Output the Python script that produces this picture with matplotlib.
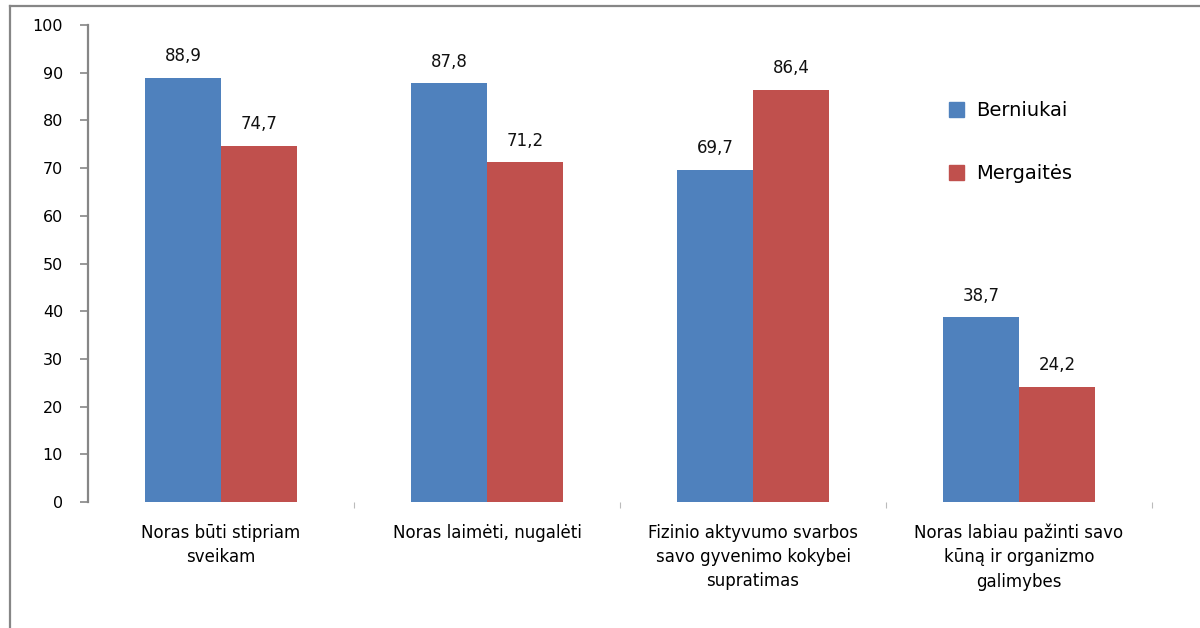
import matplotlib
matplotlib.use("Agg")
import matplotlib.pyplot as plt
import numpy as np
from matplotlib.lines import Line2D
from matplotlib.patches import Patch

categories = ["Noras būti stipriam\nsveikam",
              "Noras laimėti, nugalėti",
              "Fizinio aktyvumo svarbos\nsavo gyvenimo kokybei\nsupratimas",
              "Noras labiau pažinti savo\nkūną ir organizmo\ngalimybes"]
berniukai = [88.9, 87.8, 69.7, 38.7]
mergaites = [74.7, 71.2, 86.4, 24.2]
series_names = ["Berniukai", "Mergaitės"]
yticks = [0, 10, 20, 30, 40, 50, 60, 70, 80, 90, 100]

blue = "#4F81BD"
red = "#C0504D"
gray = "#868686"

plt.rcParams['font.family'] = ['DejaVu Sans']

fig = plt.figure(figsize=(12, 6.28), dpi=100)
ax = fig.add_axes([88/1200, 1-502/628, (1152-88)/1200, (502-25)/628])

x = np.arange(len(categories))
w = 0.2857
b1 = ax.bar(x - w/2, berniukai, w, color=blue)
b2 = ax.bar(x + w/2, mergaites, w, color=red)

def fmt(v):
    return f"{v:.1f}".replace(".", ",")

for bars, vals in ((b1, berniukai), (b2, mergaites)):
    for r, v in zip(bars, vals):
        ax.annotate(fmt(v), (r.get_x() + r.get_width()/2, v),
                    xytext=(0, 9), textcoords="offset points",
                    ha="center", va="bottom", fontsize=12, color="#111111")

ax.set_xlim(-0.5, len(categories) - 0.5)
ax.set_ylim(0, 100)
ax.set_yticks(yticks)
ax.set_yticklabels([str(t) for t in yticks], fontsize=11.5)
ax.tick_params(axis='y', length=6, width=1.2, color=gray, pad=12, direction='out')

ax.set_xticks(x)
ax.set_xticklabels(categories, fontsize=12, linespacing=1.45)
ax.tick_params(axis='x', length=0, pad=15.5)
ax.set_xticks(np.arange(0.5, len(categories), 1), minor=True)
ax.tick_params(axis='x', which='minor', length=4, width=0.8, color="#BBBBBB", direction='out')

for s in ("top", "right", "bottom"):
    ax.spines[s].set_visible(False)
ax.spines["left"].set_color(gray)
ax.spines["left"].set_linewidth(1.6)

handles = [Patch(color=blue), Patch(color=red)]
fig.legend(handles, series_names, loc="upper left",
           bbox_to_anchor=(931/1200, 1-84/628), frameon=False,
           fontsize=14, handlelength=0.8, handleheight=0.8,
           labelspacing=2.25, handletextpad=0.6)

fig.add_artist(Line2D([9.5/1200, 1], [1-5.5/628, 1-5.5/628], color=gray, lw=1.6,
                      transform=fig.transFigure))
fig.add_artist(Line2D([9.5/1200, 9.5/1200], [0, 1-5.5/628], color=gray, lw=1.6,
                      transform=fig.transFigure))

fig.savefig("out.png", dpi=100)
